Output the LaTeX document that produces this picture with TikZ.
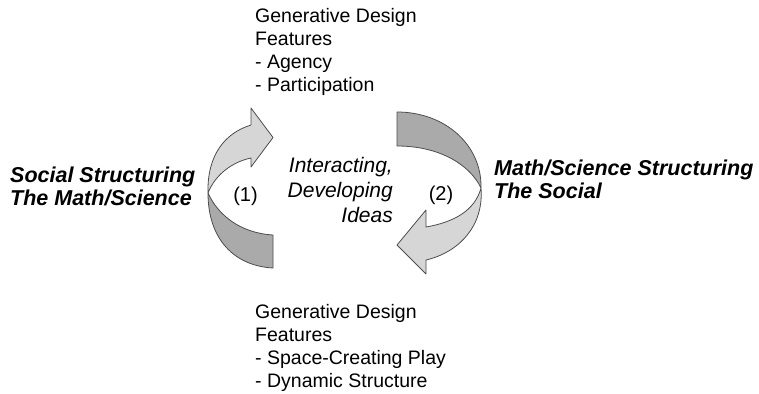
\documentclass[tikz,border=0pt]{standalone}
\usepackage{fontspec}
\setmainfont{Liberation Sans}
\definecolor{bandlight}{HTML}{D6D6D6}
\definecolor{banddark}{HTML}{AAAAAA}
\definecolor{bandline}{HTML}{4D4D4D}

\begin{document}
\begin{tikzpicture}[
      x=1pt, y=-1pt,
      band/.style={draw=bandline, line width=0.8pt, line join=round},
      lightband/.style={band, fill=bandlight},
      darkband/.style={band, fill=banddark},
      feature/.style={align=left, inner sep=0pt, anchor=north west, font=\fontsize{19.5}{23}\selectfont},
      theme/.style={align=left, inner sep=0pt, anchor=north west, font=\fontsize{21.5}{23.3}\selectfont\bfseries\itshape},
      ideas/.style={align=right, inner sep=0pt, anchor=north east, font=\fontsize{21}{25}\selectfont\itshape},
      step number/.style={inner sep=0pt, font=\fontsize{20}{24}\selectfont},
    ]
      \useasboundingbox (0,0) rectangle (759,393);

      % cycle (1): social -> math/science
      \coordinate (cross1) at (208,193);
      \filldraw[darkband] (cross1) .. controls (208,240) and (235,266) .. (273,268)
        -- (273,235) .. controls (240,233) and (218,215) .. (cross1) -- cycle;
      \filldraw[lightband] (cross1) .. controls (207,155) and (225,133) .. (251,125)
        -- (251,108) -- (273,137.5) -- (251,167) -- (251,158)
        .. controls (232,162) and (215,175) .. (cross1) -- cycle;

      % cycle (2): math/science -> social
      \coordinate (cross2) at (481,188);
      \filldraw[darkband] (397,112) .. controls (445,112) and (482,145) .. (cross2)
        .. controls (470,165) and (440,146) .. (397,146) -- cycle;
      \filldraw[lightband] (cross2) .. controls (484,225) and (460,252) .. (426,260)
        -- (426,274) -- (397,245) -- (426,210) -- (426,227)
        .. controls (455,222) and (475,210) .. (cross2) -- cycle;

      \node[feature] (featTop) at (255,8.5) {Generative Design\\Features\\- Agency\\- Participation};
      \node[feature] (featBot) at (255,303.8) {Generative Design\\Features\\- Space-Creating Play\\- Dynamic Structure};
      \node[theme] (socMath) at (10,166.3) {Social Structuring\\The Math/Science};
      \node[theme] (mathSoc) at (494,159.6) {Math/Science Structuring\\The Social};
      \node[ideas] (ideas) at (393,156.7) {Interacting,\\Developing\\Ideas};
      \node[step number] (num1) at (245.5,196) {(1)};
      \node[step number] (num2) at (441,195) {(2)};
\end{tikzpicture}
\end{document}
